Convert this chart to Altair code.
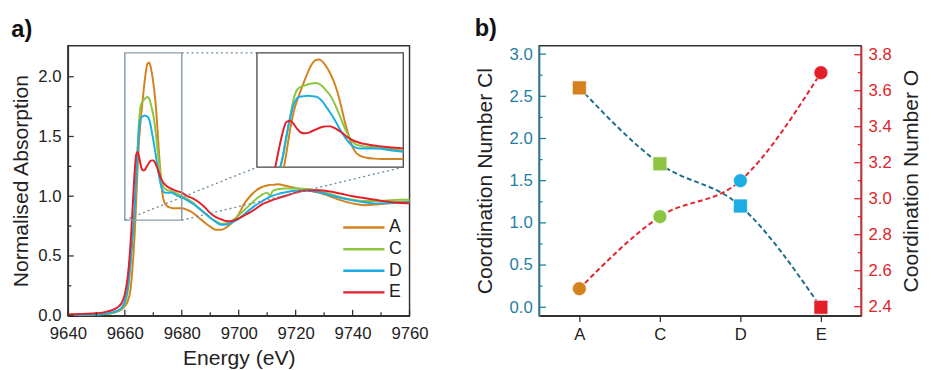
import altair as alt
import pandas as pd

# ---------------- data ----------------
energy = [9640, 9645, 9650, 9653, 9656, 9658, 9659, 9660, 9661, 9662, 9662.5, 9663, 9663.5,
          9664, 9664.5, 9665, 9665.5, 9666, 9666.5, 9667, 9667.5, 9668, 9668.5, 9669, 9669.5,
          9670, 9670.5, 9671, 9671.5, 9672, 9672.5, 9673, 9673.5, 9674, 9675, 9676, 9677, 9678,
          9680, 9682, 9684, 9686, 9688, 9690, 9692, 9694, 9696, 9698, 9700, 9702, 9704, 9706,
          9708, 9710, 9711, 9712, 9714, 9716, 9720, 9724, 9728, 9732, 9736, 9740, 9744, 9748,
          9752, 9756, 9760]

abs_A = [0.01, 0.01, 0.012, 0.015, 0.025, 0.04, 0.055, 0.08, 0.12, 0.22, 0.34, 0.5, 0.7,
         0.96, 1.24, 1.47, 1.62, 1.74, 1.86, 1.97, 2.06, 2.11, 2.12, 2.09, 2.03,
         1.95, 1.85, 1.72, 1.55, 1.36, 1.2, 1.06, 0.98, 0.945, 0.915, 0.905, 0.9, 0.9,
         0.9, 0.885, 0.86, 0.82, 0.78, 0.745, 0.72, 0.72, 0.745, 0.785, 0.85, 0.94, 1.0, 1.045,
         1.075, 1.09, 1.095, 1.095, 1.1, 1.09, 1.07, 1.05, 1.03, 1.0, 0.965, 0.94, 0.925, 0.93,
         0.94, 0.95, 0.955]

abs_C = [0.005, 0.008, 0.01, 0.013, 0.025, 0.045, 0.065, 0.1, 0.2, 0.42, 0.58, 0.73, 0.9,
         1.15, 1.4, 1.63, 1.75, 1.785, 1.8, 1.815, 1.825, 1.83, 1.82, 1.785, 1.735,
         1.68, 1.6, 1.5, 1.39, 1.28, 1.19, 1.12, 1.08, 1.065, 1.05, 1.045, 1.035, 1.025,
         1.0, 0.975, 0.945, 0.9, 0.86, 0.82, 0.79, 0.77, 0.775, 0.8, 0.84, 0.885, 0.93, 0.975,
         1.01, 1.03, 1.005, 1.045, 1.06, 1.065, 1.065, 1.06, 1.045, 1.02, 0.99, 0.97, 0.96, 0.96,
         0.965, 0.97, 0.97]

abs_D = [0.005, 0.008, 0.01, 0.015, 0.03, 0.05, 0.07, 0.12, 0.23, 0.45, 0.6, 0.74, 0.92,
         1.17, 1.39, 1.56, 1.645, 1.665, 1.67, 1.675, 1.67, 1.665, 1.645, 1.6, 1.535,
         1.47, 1.4, 1.32, 1.24, 1.17, 1.11, 1.065, 1.04, 1.03, 1.028, 1.03, 1.025, 1.01,
         0.99, 0.965, 0.935, 0.9, 0.86, 0.82, 0.785, 0.76, 0.765, 0.785, 0.81, 0.85, 0.89, 0.925,
         0.955, 0.985, 0.995, 1.005, 1.02, 1.03, 1.045, 1.045, 1.035, 1.01, 0.985, 0.965, 0.95, 0.94,
         0.94, 0.945, 0.95]

abs_E = [0.01, 0.015, 0.02, 0.03, 0.05, 0.08, 0.11, 0.18, 0.32, 0.6, 0.8, 1.02, 1.22,
         1.35, 1.37, 1.33, 1.27, 1.225, 1.215, 1.22, 1.24, 1.26, 1.28, 1.295, 1.3,
         1.3, 1.285, 1.26, 1.23, 1.195, 1.16, 1.135, 1.115, 1.1, 1.08, 1.065, 1.055, 1.045,
         1.03, 1.0, 0.98, 0.95, 0.91, 0.86, 0.825, 0.805, 0.79, 0.795, 0.815, 0.84, 0.865, 0.895,
         0.93, 0.95, 0.96, 0.97, 0.985, 1.0, 1.03, 1.05, 1.05, 1.04, 1.02, 1.0, 0.985, 0.97,
         0.955, 0.945, 0.94]

samples = ["A", "C", "D", "E"]
sample_colors = ["#D4811E", "#8CC540", "#1BADE3", "#E3202A"]

cn_cl = [2.6, 1.7, 1.2, 0.0]
cn_o = [2.5, 2.9, 3.1, 3.7]

x_major = [9640, 9660, 9680, 9700, 9720, 9740, 9760]
x_minor = [9650, 9670, 9690, 9710, 9730, 9750]
ya_major = [0.0, 0.5, 1.0, 1.5, 2.0]
ya_minor = [0.25, 0.75, 1.25, 1.75]
cl_major = [0.0, 0.5, 1.0, 1.5, 2.0, 2.5, 3.0]
cl_minor = [0.25, 0.75, 1.25, 1.75, 2.25, 2.75]
o_major = [2.4, 2.6, 2.8, 3.0, 3.2, 3.4, 3.6, 3.8]
o_minor = [2.5, 2.7, 2.9, 3.1, 3.3, 3.5, 3.7]

# zoom window (data region magnified) and where the inset sits (in main-axis units)
zoom_E = [9660, 9680]
zoom_A = [0.8, 2.2]
inset_E = [9706.4, 9757.8]
inset_A = [1.243, 2.2]

# ---------------- style ----------------
FONT = "Liberation Sans"
DARK = "#333333"
TEAL = "#1E7FA2"
RED = "#E3232B"
BOXC = "#8A9FAD"
DOTC = "#6F8C9F"
WA, HA = 348, 275
WB, HB = 328, 275
TICK_MAJ, TICK_MIN = 6, 3.5

# ---------------- panel a ----------------
series = {"A": abs_A, "C": abs_C, "D": abs_D, "E": abs_E}
spec = pd.concat([pd.DataFrame({"E": energy, "A": v, "sample": k}) for k, v in series.items()],
                 ignore_index=True)

# inset curves: the zoom window mapped into the inset frame
rows = []
for k, v in series.items():
    pts = [(e, a) for e, a in zip(energy, v) if zoom_E[0] <= e <= zoom_E[1]]
    prev = None
    for e, a in pts:
        if a >= zoom_A[0]:
            if prev is not None and prev[1] < zoom_A[0]:
                t = (zoom_A[0] - prev[1]) / (a - prev[1])
                rows.append((k, prev[0] + t * (e - prev[0]), zoom_A[0]))
            rows.append((k, e, a))
        prev = (e, a)
ins = pd.DataFrame(rows, columns=["sample", "e0", "a0"])
sx = (inset_E[1] - inset_E[0]) / (zoom_E[1] - zoom_E[0])
sy = (inset_A[1] - inset_A[0]) / (zoom_A[1] - zoom_A[0])
ins["E"] = inset_E[0] + (ins["e0"] - zoom_E[0]) * sx
ins["A"] = inset_A[0] + (ins["a0"] - zoom_A[0]) * sy

box_df = pd.DataFrame({"E": [zoom_E[0]], "E2": [zoom_E[1]], "A": [zoom_A[0]], "A2": [zoom_A[1]]})
frame_df = pd.DataFrame({"E": [inset_E[0]], "E2": [inset_E[1]], "A": [inset_A[0]], "A2": [inset_A[1]]})
link_df = pd.DataFrame({
    "E": [zoom_E[1], zoom_E[0], zoom_E[1]],
    "A": [zoom_A[1], zoom_A[0], zoom_A[0]],
    "E2": [inset_E[0], inset_E[0], inset_E[1]],
    "A2": [inset_A[1], inset_A[0], inset_A[0]],
})

xs_a = alt.Scale(domain=[9640, 9760], nice=False, zero=False)
ys_a = alt.Scale(domain=[0, 2.26], nice=False, zero=False)
ax_x = alt.Axis(values=x_major, format="d", title="Energy (eV)", ticks=False, grid=False,
                labelFontSize=17, titleFontSize=21.5, labelPadding=10, titlePadding=7,
                domainColor=DARK, domainWidth=1.5, labelColor="#222", titleColor="#222",
                titleFontWeight="normal", labelFlush=False, labelAlign="center",
                labelOverlap=False)
ax_y = alt.Axis(values=ya_major, format=".1f", title="Normalised Absorption", ticks=False, grid=False,
                labelFontSize=17, titleFontSize=21.5, labelPadding=7, titlePadding=5,
                domainColor=DARK, domainWidth=1.5, labelColor="#222", titleColor="#222",
                titleFontWeight="normal", labelFlush=False)
X = alt.X("E:Q", scale=xs_a, axis=ax_x)
Y = alt.Y("A:Q", scale=ys_a, axis=ax_y)
COL = alt.Color("sample:N", scale=alt.Scale(domain=samples, range=sample_colors),
                legend=alt.Legend(orient="none", legendX=279, legendY=174.5, title=None,
                                  symbolType="stroke", symbolSize=1764, symbolStrokeWidth=2.5,
                                  clipHeight=21.5, labelFontSize=18, labelFont=FONT,
                                  labelColor="#222", padding=0, rowPadding=0, labelOffset=3,
                                  symbolOffset=0))

lines = alt.Chart(spec).mark_line(strokeWidth=2, interpolate="monotone").encode(
    x=X, y=Y, color=COL, order="E:Q")
box = alt.Chart(box_df).mark_rect(fill=None, stroke=BOXC, strokeWidth=1.5).encode(
    x=X, x2="E2", y=Y, y2="A2")
links = alt.Chart(link_df).mark_rule(stroke=DOTC, strokeWidth=1.4, strokeDash=[2, 3]).encode(
    x=X, x2="E2", y=Y, y2="A2")
frame = alt.Chart(frame_df).mark_rect(fill="white", stroke="#444", strokeWidth=1.3).encode(
    x=X, x2="E2", y=Y, y2="A2")
inset = alt.Chart(ins).mark_line(strokeWidth=2, interpolate="monotone").encode(
    x=X, y=Y, color=COL, detail="sample:N", order="e0:Q")

xt_maj = alt.Chart(pd.DataFrame({"E": x_major})).mark_rule(color=DARK, strokeWidth=1.3).encode(
    x=X, y=alt.value(HA), y2=alt.value(HA - TICK_MAJ))
xt_min = alt.Chart(pd.DataFrame({"E": x_minor})).mark_rule(color=DARK, strokeWidth=1.3).encode(
    x=X, y=alt.value(HA), y2=alt.value(HA - TICK_MIN))
yt_maj = alt.Chart(pd.DataFrame({"A": ya_major})).mark_rule(color=DARK, strokeWidth=1.3).encode(
    y=Y, x=alt.value(0), x2=alt.value(TICK_MAJ))
yt_min = alt.Chart(pd.DataFrame({"A": ya_minor})).mark_rule(color=DARK, strokeWidth=1.3).encode(
    y=Y, x=alt.value(0), x2=alt.value(TICK_MIN))

panel_a = alt.layer(lines, box, links, frame, inset, xt_maj, xt_min, yt_maj, yt_min).properties(
    width=WA, height=HA,
    title=alt.TitleParams("a)", anchor="start", frame="bounds", fontSize=24, fontWeight="bold",
                          font=FONT, color="#111", offset=4))

# ---------------- panel b ----------------
cn_df = pd.DataFrame({"sample": samples, "Cl": cn_cl, "O": cn_o})
XB = alt.X("sample:N", scale=alt.Scale(type="point", domain=samples, padding=0.5),
           axis=alt.Axis(title=None, labelAngle=0, ticks=True, tickSize=6, tickColor=DARK,
                         tickWidth=1.3, domainColor=DARK, domainWidth=1.5, labelFontSize=17,
                         labelColor="#222", labelPadding=5, grid=False))
MCOL = alt.Color("sample:N", scale=alt.Scale(domain=samples, range=sample_colors), legend=None)
Y_CL = alt.Y("Cl:Q", scale=alt.Scale(domain=[-0.1, 3.1], nice=False, zero=False),
             axis=alt.Axis(orient="left", values=cl_major, format=".1f", title="Coordination Number Cl",
                           ticks=False, grid=False, labelFontSize=17, titleFontSize=21.5,
                           labelPadding=7, titlePadding=13, labelColor=TEAL, domainColor=TEAL,
                           domainWidth=1.5, titleColor="#222", titleFontWeight="normal",
                           labelFlush=False))
Y_O = alt.Y("O:Q", scale=alt.Scale(domain=[2.35, 3.85], nice=False, zero=False),
            axis=alt.Axis(orient="right", values=o_major, format=".1f", title="Coordination Number O",
                          ticks=False, grid=False, labelFontSize=17, titleFontSize=21.5,
                          labelPadding=7, titlePadding=10, labelColor=RED, domainColor=RED,
                          domainWidth=1.5, titleColor="#222", titleFontWeight="normal",
                          titleAngle=270, titleBaseline="top", labelFlush=False))

cl_line = alt.Chart(cn_df).mark_line(color="#1C6E8C", strokeWidth=2, strokeDash=[5, 3],
                                     interpolate="monotone").encode(x=XB, y=Y_CL)
cl_pts = alt.Chart(cn_df).mark_point(shape="square", filled=True, size=200, opacity=1,
                                     stroke="white", strokeWidth=0.6).encode(x=XB, y=Y_CL, fill=MCOL)
cl_tmaj = alt.Chart(pd.DataFrame({"Cl": cl_major})).mark_rule(color=TEAL, strokeWidth=1.3).encode(
    y=Y_CL, x=alt.value(0), x2=alt.value(TICK_MAJ + 1))
cl_tmin = alt.Chart(pd.DataFrame({"Cl": cl_minor})).mark_rule(color=TEAL, strokeWidth=1.3).encode(
    y=Y_CL, x=alt.value(0), x2=alt.value(TICK_MIN))

o_line = alt.Chart(cn_df).mark_line(color=RED, strokeWidth=2, strokeDash=[5, 3],
                                    interpolate="monotone").encode(x=XB, y=Y_O)
o_pts = alt.Chart(cn_df).mark_point(shape="circle", filled=True, size=200, opacity=1,
                                    stroke="white", strokeWidth=0.6).encode(x=XB, y=Y_O, fill=MCOL)
o_tmaj = alt.Chart(pd.DataFrame({"O": o_major})).mark_rule(color=RED, strokeWidth=1.3).encode(
    y=Y_O, x=alt.value(WB), x2=alt.value(WB - TICK_MAJ - 1))
o_tmin = alt.Chart(pd.DataFrame({"O": o_minor})).mark_rule(color=RED, strokeWidth=1.3).encode(
    y=Y_O, x=alt.value(WB), x2=alt.value(WB - TICK_MIN))

cl_group = alt.layer(cl_line, cl_tmaj, cl_tmin, cl_pts)
o_group = alt.layer(o_line, o_tmaj, o_tmin, o_pts)
panel_b = alt.layer(cl_group, o_group).resolve_scale(y="independent").properties(
    width=WB, height=HB,
    title=alt.TitleParams("b)", anchor="start", frame="bounds", fontSize=24, fontWeight="bold",
                          font=FONT, color="#111", offset=4))

chart = alt.hconcat(panel_a, panel_b, spacing=45).properties(
    padding={"left": 2, "top": 5, "right": 0, "bottom": 0}
).configure_view(stroke=DARK, strokeWidth=1.5).configure_axis(
    labelFont=FONT, titleFont=FONT
).configure_title(font=FONT)

chart.save("out.html", embed_options={"renderer": "svg", "actions": False})
